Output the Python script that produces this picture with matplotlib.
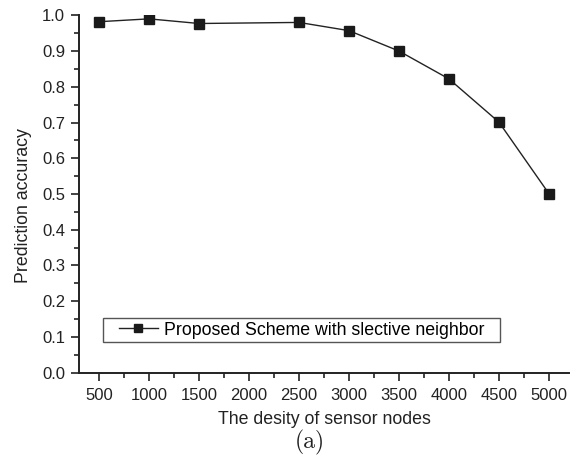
import matplotlib
matplotlib.use("Agg")
import matplotlib.pyplot as plt
from matplotlib.patches import Rectangle
from matplotlib.ticker import MultipleLocator

density = [500, 1000, 1500, 2500, 3000, 3500, 4000, 4500, 5000]
accuracy = [0.982, 0.990, 0.977, 0.980, 0.957, 0.900, 0.822, 0.701, 0.501]
x_ticks = [500, 1000, 1500, 2000, 2500, 3000, 3500, 4000, 4500, 5000]
y_ticks = [0.0, 0.1, 0.2, 0.3, 0.4, 0.5, 0.6, 0.7, 0.8, 0.9, 1.0]
series_label = "Proposed Scheme with slective neighbor"

plt.rcParams["font.family"] = ["Liberation Sans", "DejaVu Sans"]

fig = plt.figure(figsize=(5.77, 4.63), dpi=100)
ax = fig.add_axes([0.137, 0.195, 0.849, 0.772])

ax.plot(density, accuracy, color="#222222", linewidth=1.0, marker="s",
        markersize=7.5, markerfacecolor="#1a1a1a", markeredgecolor="#1a1a1a",
        label=series_label)

ax.set_xlim(300, 5200)
ax.set_ylim(0.0, 1.0)
ax.set_xticks(x_ticks)
ax.set_yticks(y_ticks)
ax.set_yticklabels([f"{v:.1f}" for v in y_ticks])
ax.xaxis.set_minor_locator(MultipleLocator(250))
ax.yaxis.set_minor_locator(MultipleLocator(0.05))
ax.tick_params(axis="both", which="major", direction="out", length=6,
               width=1.2, labelsize=12, colors="#222222", pad=4)
ax.tick_params(axis="both", which="minor", direction="out", length=3.5,
               width=1.2, colors="#222222")
ax.tick_params(axis="x", which="major", pad=5)

for side in ("top", "right"):
    ax.spines[side].set_visible(False)
for side in ("left", "bottom"):
    ax.spines[side].set_linewidth(1.4)
    ax.spines[side].set_color("#222222")

ax.set_xlabel("The desity of sensor nodes", fontsize=12.8, color="#222222",
              labelpad=6)
ax.set_ylabel("Prediction accuracy", fontsize=12.8, color="#222222")
ax.yaxis.set_label_coords(-0.096, 0.469)

# legend box with wide side margins, drawn as its own frame
ax.add_patch(Rectangle((0.049, 0.086), 0.81, 0.067, transform=ax.transAxes,
                       facecolor="white", edgecolor="#555555",
                       linewidth=1.0, zorder=4))
leg = ax.legend(loc="center left", bbox_to_anchor=(0.081, 0.1195),
                borderaxespad=0.0, borderpad=0.0, fontsize=12.8,
                frameon=False, handlelength=2.2, handletextpad=0.35,
                markerscale=0.85)
leg.set_zorder(5)

fig.text(0.537, 0.045, "(a)", fontsize=17, family="cmr10", ha="center",
         va="center", color="#222222")

fig.savefig("out.png", dpi=100)
